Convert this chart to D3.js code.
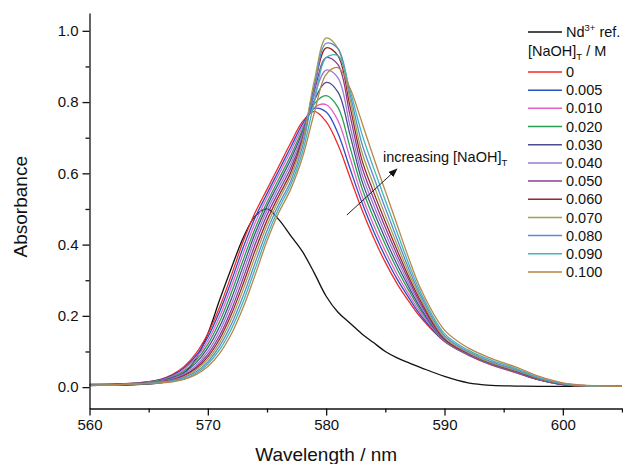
<!DOCTYPE html>
<html lang="en">
<head>
<meta charset="UTF-8">
<title>Nd absorbance vs NaOH</title>
<style>
  html, body { margin: 0; padding: 0; background: #fff; }
  svg { display: block; font-family: "Liberation Sans", Arial, sans-serif; }
</style>
</head>
<body>
<div id="chart"></div>
<script src="https://d3js.org/d3.v7.min.js"></script>
<script>
// wavelength grid (nm) shared by every spectrum
const wavelength = [560, 564, 566, 567, 568, 569, 570, 571, 572, 573, 574, 575, 576, 577, 578, 579, 580,
  581, 582, 583, 584, 585, 586, 587, 588, 590, 592, 594, 596, 598, 600, 602, 605];

// Nd3+ reference spectrum
const ndRef = [0.005, 0.007, 0.012, 0.02, 0.04, 0.08, 0.15, 0.245, 0.335, 0.42, 0.48, 0.50, 0.47, 0.425, 0.38, 0.32, 0.255,
  0.21, 0.18, 0.15, 0.125, 0.10, 0.082, 0.068, 0.055, 0.03, 0.012, 0.005, 0.003, 0.002, 0.002, 0.002, 0.002];

// spectra for each [NaOH]T
const abs000 = [0.008, 0.012, 0.022, 0.035, 0.058, 0.095, 0.150, 0.225, 0.315, 0.41, 0.49, 0.555, 0.62, 0.685, 0.745, 0.774, 0.745,
  0.68, 0.59, 0.50, 0.42, 0.35, 0.29, 0.24, 0.195, 0.128, 0.09, 0.062, 0.041, 0.02, 0.007, 0.003, 0.002];
const abs005 = [0.007, 0.011, 0.021, 0.033, 0.054, 0.088, 0.140, 0.212, 0.299, 0.393, 0.476, 0.543, 0.608, 0.673, 0.738, 0.782, 0.772,
  0.712, 0.615, 0.52, 0.438, 0.366, 0.303, 0.25, 0.201, 0.129, 0.091, 0.063, 0.042, 0.02, 0.007, 0.003, 0.002];
const abs010 = [0.007, 0.011, 0.019, 0.030, 0.050, 0.082, 0.130, 0.198, 0.283, 0.376, 0.461, 0.532, 0.597, 0.662, 0.73, 0.785, 0.793,
  0.748, 0.645, 0.539, 0.456, 0.382, 0.316, 0.259, 0.208, 0.13, 0.091, 0.063, 0.042, 0.021, 0.007, 0.003, 0.002];
const abs020 = [0.006, 0.011, 0.018, 0.028, 0.045, 0.075, 0.120, 0.184, 0.266, 0.358, 0.446, 0.519, 0.584, 0.649, 0.722, 0.795, 0.818,
  0.785, 0.675, 0.561, 0.476, 0.40, 0.331, 0.27, 0.215, 0.131, 0.092, 0.064, 0.043, 0.021, 0.007, 0.003, 0.002];
const abs030 = [0.006, 0.010, 0.017, 0.026, 0.041, 0.068, 0.110, 0.170, 0.249, 0.341, 0.432, 0.508, 0.573, 0.638, 0.715, 0.805, 0.855,
  0.828, 0.71, 0.581, 0.494, 0.416, 0.344, 0.28, 0.221, 0.132, 0.092, 0.064, 0.043, 0.021, 0.007, 0.003, 0.002];
const abs040 = [0.006, 0.010, 0.016, 0.023, 0.037, 0.061, 0.100, 0.157, 0.233, 0.324, 0.417, 0.496, 0.561, 0.626, 0.708, 0.818, 0.89,
  0.868, 0.735, 0.60, 0.512, 0.432, 0.358, 0.289, 0.228, 0.133, 0.093, 0.065, 0.044, 0.022, 0.007, 0.003, 0.002];
const abs050 = [0.005, 0.010, 0.015, 0.021, 0.034, 0.056, 0.092, 0.145, 0.218, 0.307, 0.401, 0.483, 0.549, 0.614, 0.70, 0.83, 0.925,
  0.905, 0.765, 0.62, 0.53, 0.448, 0.371, 0.299, 0.234, 0.134, 0.094, 0.066, 0.045, 0.022, 0.008, 0.003, 0.002];
const abs060 = [0.005, 0.010, 0.014, 0.020, 0.032, 0.052, 0.085, 0.135, 0.205, 0.291, 0.384, 0.468, 0.537, 0.602, 0.695, 0.845, 0.952,
  0.93, 0.79, 0.64, 0.548, 0.464, 0.384, 0.308, 0.241, 0.136, 0.095, 0.067, 0.046, 0.023, 0.008, 0.003, 0.002];
const abs070 = [0.005, 0.009, 0.014, 0.019, 0.029, 0.048, 0.078, 0.125, 0.191, 0.275, 0.367, 0.454, 0.526, 0.591, 0.69, 0.86, 0.98,
  0.95, 0.81, 0.662, 0.569, 0.482, 0.399, 0.319, 0.248, 0.139, 0.097, 0.068, 0.047, 0.024, 0.009, 0.003, 0.002];
const abs080 = [0.004, 0.009, 0.013, 0.018, 0.027, 0.043, 0.071, 0.115, 0.177, 0.257, 0.349, 0.439, 0.513, 0.578, 0.675, 0.84, 0.965,
  0.95, 0.825, 0.686, 0.591, 0.502, 0.415, 0.331, 0.256, 0.144, 0.10, 0.071, 0.05, 0.025, 0.0095, 0.004, 0.002];
const abs090 = [0.004, 0.009, 0.013, 0.016, 0.024, 0.039, 0.065, 0.105, 0.164, 0.241, 0.332, 0.424, 0.502, 0.567, 0.66, 0.80, 0.925,
  0.93, 0.835, 0.713, 0.616, 0.524, 0.434, 0.344, 0.265, 0.150, 0.104, 0.075, 0.053, 0.027, 0.0105, 0.004, 0.002];
const abs100 = [0.004, 0.009, 0.012, 0.015, 0.022, 0.035, 0.058, 0.095, 0.150, 0.225, 0.315, 0.41, 0.49, 0.555, 0.645, 0.77, 0.878,
  0.897, 0.84, 0.745, 0.645, 0.55, 0.455, 0.36, 0.275, 0.16, 0.11, 0.08, 0.057, 0.03, 0.012, 0.005, 0.002];

const naohLabels = ["0", "0.005", "0.010", "0.020", "0.030", "0.040", "0.050", "0.060", "0.070", "0.080", "0.090", "0.100"];
const naohColors = ["#f02a2a", "#2c4ec6", "#e063c8", "#27a052", "#4c4c90", "#9b7bd0",
  "#8a3c92", "#962a2a", "#a2a052", "#5c8ad0", "#42b5b5", "#b8854c"];

const xTicks = [560, 570, 580, 590, 600];
const xMinor = [565, 575, 585, 595, 605];
const yTicks = [0.0, 0.2, 0.4, 0.6, 0.8, 1.0];
const yMinor = [0.1, 0.3, 0.5, 0.7, 0.9];

// annotation arrow, in data units
const arrowFrom = [581.75, 0.483];
const arrowTo = [585.97, 0.612];
const noteAt = [584.8, 0.632];

const spectra = [abs000, abs005, abs010, abs020, abs030, abs040, abs050, abs060, abs070, abs080, abs090, abs100]
  .map((vals, i) => ({ label: naohLabels[i], color: naohColors[i], points: wavelength.map((w, j) => [w, vals[j]]) }));

const width = 623, height = 464;
const x = d3.scaleLinear().domain([560, 605]).range([89.5, 622]);
const y = d3.scaleLinear().domain([-0.06, 1.05]).range([408.5, 13]);

const svg = d3.select("#chart").append("svg")
  .attr("width", width)
  .attr("height", height);

svg.append("defs").call(d => {
  d.append("clipPath").attr("id", "plot")
    .append("rect")
    .attr("x", x(560)).attr("y", y(1.05))
    .attr("width", x(605) - x(560)).attr("height", y(-0.06) - y(1.05));
  d.append("marker").attr("id", "head")
    .attr("viewBox", "0 0 10 10").attr("refX", 9).attr("refY", 5)
    .attr("markerWidth", 9).attr("markerHeight", 9).attr("orient", "auto")
    .attr("markerUnits", "userSpaceOnUse")
    .append("path").attr("d", "M0,1 L10,5 L0,9 Z").attr("fill", "#111");
});

const line = d3.line()
  .x(d => x(d[0]))
  .y(d => y(d[1]))
  .curve(d3.curveCatmullRom.alpha(0.5));

const curves = svg.append("g").attr("clip-path", "url(#plot)").attr("fill", "none");

curves.append("path")
  .attr("d", line(wavelength.map((w, j) => [w, ndRef[j]])))
  .attr("stroke", "#111")
  .attr("stroke-width", 1.3);

curves.selectAll("path.s")
  .data(spectra)
  .join("path")
  .attr("class", "s")
  .attr("d", d => line(d.points))
  .attr("stroke", d => d.color)
  .attr("stroke-width", 1.3);

// axes
const tickFont = g => g.selectAll("text")
  .attr("font-family", "'Liberation Sans', Arial, sans-serif")
  .attr("font-size", 15)
  .attr("fill", "#111");

svg.append("g")
  .attr("transform", `translate(0,${y(-0.06)})`)
  .call(d3.axisBottom(x).tickValues(xMinor).tickSize(4).tickFormat(""))
  .call(g => g.select(".domain").remove())
  .call(g => g.selectAll("line").attr("stroke-width", 1.3).attr("stroke", "#111"));

svg.append("g")
  .attr("transform", `translate(0,${y(-0.06)})`)
  .call(d3.axisBottom(x).tickValues(xTicks).tickSize(7).tickPadding(4).tickSizeOuter(0).tickFormat(d3.format("d")))
  .call(g => g.select(".domain").attr("stroke-width", 1.3).attr("stroke", "#111"))
  .call(g => g.selectAll("line").attr("stroke-width", 1.3).attr("stroke", "#111"))
  .call(tickFont);

svg.append("g")
  .attr("transform", `translate(${x(560)},0)`)
  .call(d3.axisLeft(y).tickValues(yMinor).tickSize(4).tickFormat(""))
  .call(g => g.select(".domain").remove())
  .call(g => g.selectAll("line").attr("stroke-width", 1.3).attr("stroke", "#111"));

svg.append("g")
  .attr("transform", `translate(${x(560)},0)`)
  .call(d3.axisLeft(y).tickValues(yTicks).tickSize(7).tickPadding(4).tickSizeOuter(0).tickFormat(d3.format(".1f")))
  .call(g => g.select(".domain").attr("stroke-width", 1.3).attr("stroke", "#111"))
  .call(g => g.selectAll("line").attr("stroke-width", 1.3).attr("stroke", "#111"))
  .call(tickFont);

// axis titles
svg.append("text")
  .attr("transform", `translate(27,${(y(-0.06) + y(1.05)) / 2 - 4})rotate(-90)`)
  .attr("text-anchor", "middle")
  .attr("font-size", 19)
  .attr("fill", "#111")
  .text("Absorbance");

svg.append("text")
  .attr("x", x(580))
  .attr("y", 461)
  .attr("text-anchor", "middle")
  .attr("font-size", 19)
  .attr("fill", "#111")
  .text("Wavelength / nm");

// annotation
svg.append("line")
  .attr("x1", x(arrowFrom[0])).attr("y1", y(arrowFrom[1]))
  .attr("x2", x(arrowTo[0])).attr("y2", y(arrowTo[1]))
  .attr("stroke", "#222").attr("stroke-width", 1)
  .attr("marker-end", "url(#head)");

const note = svg.append("text")
  .attr("x", x(noteAt[0])).attr("y", y(noteAt[1]))
  .attr("font-size", 14.5)
  .attr("fill", "#111");
note.append("tspan").text("increasing [NaOH]");
note.append("tspan").attr("font-size", 9.5).attr("dy", 4).text("T");

// legend
const legend = svg.append("g").attr("font-size", 14.5).attr("fill", "#111");
const lx0 = 528, lx1 = 562, ltext = 566;

legend.append("line")
  .attr("x1", lx0).attr("x2", lx1).attr("y1", 32).attr("y2", 32)
  .attr("stroke", "#111").attr("stroke-width", 1.3);
const ndText = legend.append("text").attr("x", ltext).attr("y", 32).attr("dy", "0.35em");
ndText.append("tspan").text("Nd");
ndText.append("tspan").attr("font-size", 9.5).attr("dy", -6).text("3+");
ndText.append("tspan").attr("dy", 6).text(" ref.");

const header = legend.append("text").attr("x", lx0).attr("y", 51).attr("dy", "0.35em");
header.append("tspan").text("[NaOH]");
header.append("tspan").attr("font-size", 9.5).attr("dy", 4).text("T");
header.append("tspan").attr("dy", -4).text(" / M");

legend.selectAll("g.entry")
  .data(spectra)
  .join("g")
  .attr("class", "entry")
  .attr("transform", (d, i) => `translate(0,${72 + i * 18.18})`)
  .call(g => g.append("line")
    .attr("x1", lx0).attr("x2", lx1)
    .attr("stroke", d => d.color)
    .attr("stroke-width", 1.5))
  .call(g => g.append("text")
    .attr("x", ltext)
    .attr("dy", "0.35em")
    .text(d => d.label));
</script>
</body>
</html>
